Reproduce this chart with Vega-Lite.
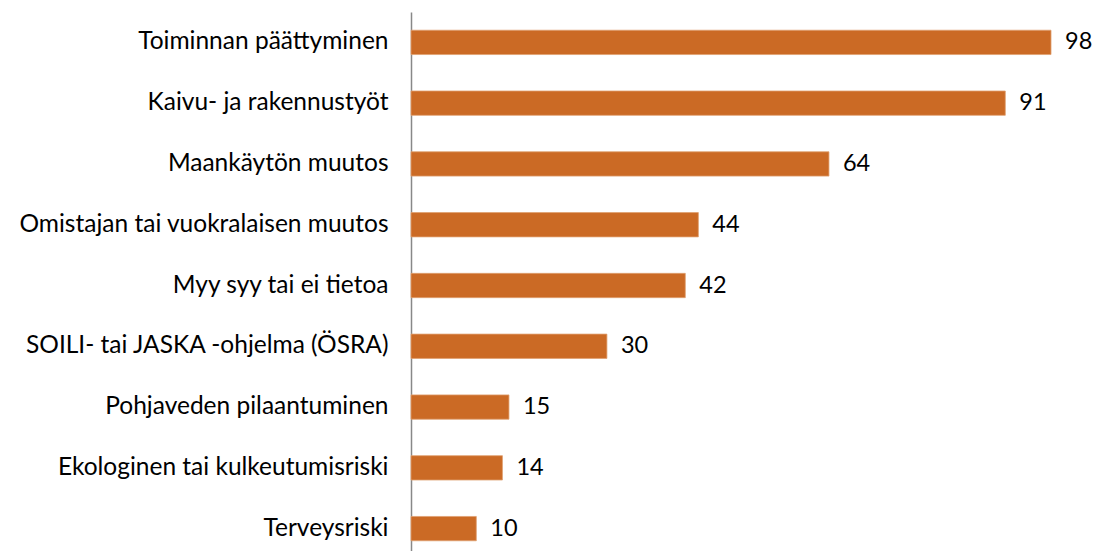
{
  "$schema": "https://vega.github.io/schema/vega-lite/v6.json",
  "autosize": {"type": "none"},
  "padding": {"left": 411, "top": 12, "right": 43, "bottom": 0},
  "width": 640,
  "height": 547,
  "background": "white",
  "data": {"values": [
    {"syy": "Toiminnan päättyminen", "n": 98},
    {"syy": "Kaivu- ja rakennustyöt", "n": 91},
    {"syy": "Maankäytön muutos", "n": 64},
    {"syy": "Omistajan tai vuokralaisen muutos", "n": 44},
    {"syy": "Myy syy tai ei tietoa", "n": 42},
    {"syy": "SOILI- tai JASKA -ohjelma (ÖSRA)", "n": 30},
    {"syy": "Pohjaveden pilaantuminen", "n": 15},
    {"syy": "Ekologinen tai kulkeutumisriski", "n": 14},
    {"syy": "Terveysriski", "n": 10}
  ]},
  "encoding": {
    "y": {"field": "syy", "type": "nominal", "sort": null,
      "scale": {"paddingInner": 0.6, "paddingOuter": 0.3},
      "axis": {"title": null, "ticks": false, "domainColor": "#888888", "domainWidth": 1.5,
        "labelFont": "Lato", "labelFontSize": 24.5, "labelColor": "#000000",
        "labelPadding": 23, "labelLimit": 500}},
    "x": {"field": "n", "type": "quantitative", "scale": {"domain": [0, 98]}, "axis": null}
  },
  "layer": [
    {"mark": {"type": "bar", "color": "#CB6A25", "stroke": "#E0A070", "strokeWidth": 0.8}},
    {"mark": {"type": "text", "align": "left", "dx": 14, "font": "Lato", "fontSize": 23.5, "color": "#000000"},
     "encoding": {"text": {"field": "n", "type": "quantitative"}}}
  ],
  "config": {"view": {"stroke": null}}
}
